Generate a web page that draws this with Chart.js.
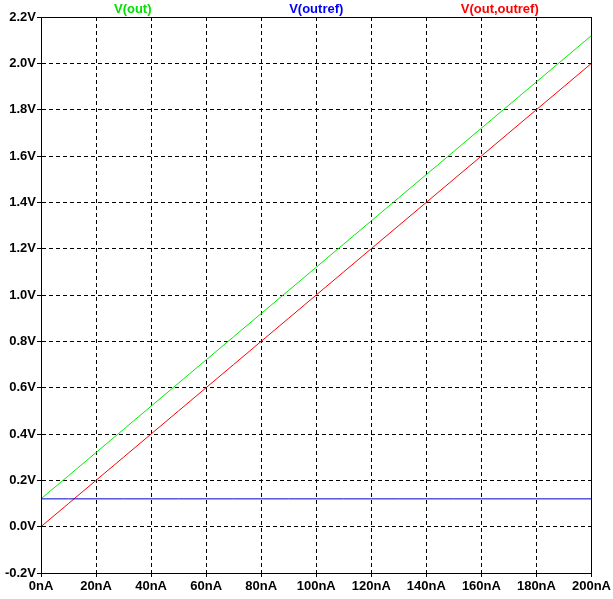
<!DOCTYPE html>
<html><head><meta charset="utf-8">
<script src="https://cdn.jsdelivr.net/npm/chart.js@4"></script>
<style>html,body{margin:0;padding:0;background:#fff}#w{width:613px;height:599px}</style>
</head><body><div id="w"><canvas id="c"></canvas></div>
<script>
const currents = [0,10,20,30,40,50,60,70,80,90,100,110,120,130,140,150,160,170,180,190,200];
const vOut = [0.12,0.22,0.32,0.42,0.52,0.62,0.72,0.82,0.92,1.02,1.12,1.22,1.32,1.42,1.52,1.62,1.72,1.82,1.92,2.02,2.12];
const vOutref = [0.12,0.12,0.12,0.12,0.12,0.12,0.12,0.12,0.12,0.12,0.12,0.12,0.12,0.12,0.12,0.12,0.12,0.12,0.12,0.12,0.12];
const vDiff = [0.00,0.10,0.20,0.30,0.40,0.50,0.60,0.70,0.80,0.90,1.00,1.10,1.20,1.30,1.40,1.50,1.60,1.70,1.80,1.90,2.00];
const seriesNames = ['V(out)','V(outref)','V(out,outref)'];
const seriesColors = ['#00e000','#0000ff','#ff0000'];
const lineColors = ['#00ee00','#0000c8','#ff0000'];

const pts = arr => currents.map((x,i)=>({x, y: arr[i]}));
const font = {family:'"Liberation Sans", Arial, sans-serif', size:13, weight:'bold'};

const framePlugin = {
  id:'frame',
  afterDraw(chart){
    const {ctx, chartArea:a} = chart;
    ctx.save();
    ctx.strokeStyle='#000'; ctx.lineWidth=1;
    ctx.strokeRect(Math.round(a.left)+0.5, Math.round(a.top)+0.5, Math.round(a.right-a.left), Math.round(a.bottom-a.top));
    ctx.font = 'bold 13px "Liberation Sans", Arial, sans-serif';
    ctx.textAlign='center'; ctx.textBaseline='middle';
    const w = a.right - a.left;
    const fr = [1/6, 1/2, 5/6];
    seriesNames.forEach((n,i)=>{
      ctx.fillStyle = seriesColors[i];
      ctx.fillText(n, a.left + w*fr[i], 9);
    });
    ctx.restore();
  }
};

new Chart(document.getElementById('c'), {
  type:'line',
  data:{datasets:[
    {label:seriesNames[0], data:pts(vOut), borderColor:lineColors[0], borderWidth:1, pointRadius:0, tension:0},
    {label:seriesNames[1], data:pts(vOutref), borderColor:lineColors[1], borderWidth:1, pointRadius:0, tension:0},
    {label:seriesNames[2], data:pts(vDiff), borderColor:lineColors[2], borderWidth:1, pointRadius:0, tension:0}
  ]},
  options:{
    responsive:true, maintainAspectRatio:false, animation:false,
    layout:{padding:{top:17, right:20, left:0, bottom:0}},
    plugins:{legend:{display:false}, tooltip:{enabled:false}},
    scales:{
      x:{type:'linear', min:0, max:200,
        ticks:{stepSize:20, color:'#000', font, padding:2, maxRotation:0, callback:v=>v+'nA'},
        grid:{color:'#000', lineWidth:1, drawTicks:true, tickLength:4, tickBorderDash:[], tickColor:'#000'},
        border:{color:'#000', width:1, dash:[4,3]},
        afterFit(s){s.height=26;}
      },
      y:{type:'linear', min:-0.2, max:2.2,
        ticks:{stepSize:0.2, color:'#000', font, padding:1, callback:v=>v.toFixed(1)+'V'},
        grid:{color:'#000', lineWidth:1, drawTicks:true, tickLength:4, tickBorderDash:[], tickColor:'#000'},
        border:{color:'#000', width:1, dash:[4,3]},
        afterFit(s){s.width=41;}
      }
    }
  },
  plugins:[framePlugin]
});
</script></body></html>
